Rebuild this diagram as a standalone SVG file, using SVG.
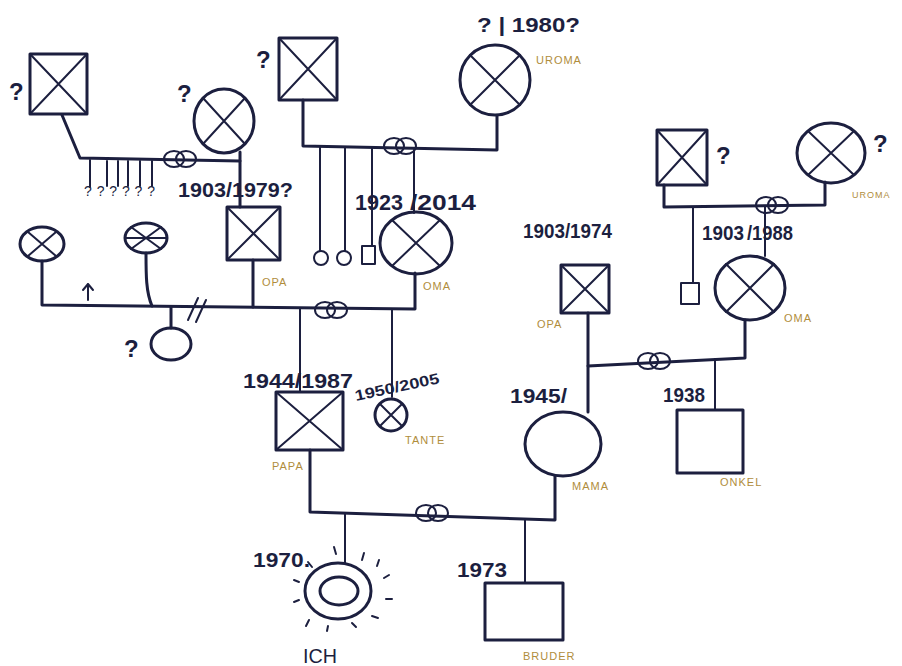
<svg xmlns="http://www.w3.org/2000/svg" width="902" height="666" viewBox="0 0 902 666">
<style>
.s{fill:none;stroke:#1c1f3f;stroke-width:3;stroke-linecap:round;stroke-linejoin:round}
.t{stroke-width:2}
.n{font-family:"Liberation Sans",Arial,sans-serif;font-weight:bold;font-size:20px;fill:#1c1f3f}
.q{font-family:"Liberation Sans",Arial,sans-serif;font-weight:bold;font-size:24px;fill:#1c1f3f}
.l{font-family:"Liberation Sans",Arial,sans-serif;font-size:11px;fill:#b08d3c;letter-spacing:1px}
.lk{font-family:"Liberation Sans",Arial,sans-serif;font-size:14px;fill:#1c1f3f;letter-spacing:1px}
</style>
<defs>
<g id="ring"><ellipse cx="-6" cy="0" rx="10" ry="8" class="s t"/><ellipse cx="6" cy="0" rx="10" ry="8" class="s t"/></g>
</defs>
<rect width="902" height="666" fill="#ffffff"/>

<g id="connectors">
<!-- top-left couple -->
<path class="s" d="M62,115 L80,158 L240,161"/>
<path class="s t" d="M90,160 V187 M107,161 V186 M118,161 V186 M128,161 V186 M140,161 V186 M152,161 V186"/>
<use href="#ring" x="180" y="159"/>
<path class="s" d="M240,152 V207"/>
<!-- top-center couple -->
<path class="s" d="M303,100 V146 L497,150 V116"/>
<use href="#ring" x="400" y="146"/>
<path class="s t" d="M320,147 V251 M345,147 V251 M372,148 V246 M414,150 V213"/>
<!-- main line -->
<path class="s" d="M42,261 V305 L415,309 V273"/>
<path class="s" d="M146,253 C146,275 146,292 152,306"/>
<path class="s" d="M171,307 V328"/>
<path class="s t" d="M88,300 V284 M83,290 L88,284 L93,290"/>
<path class="s t" d="M188,320 L198,298 M196,322 L206,300"/>
<path class="s" d="M253,260 V307"/>
<use href="#ring" x="331" y="310"/>
<path class="s t" d="M300,308 V392 M392,309 V397"/>
<!-- right top couple -->
<path class="s" d="M664,185 V207 L825,205 V182"/>
<use href="#ring" x="772" y="205"/>
<path class="s t" d="M693,207 V282 M765,207 V256"/>
<!-- right middle couple -->
<path class="s" d="M588,313 V412"/>
<path class="s" d="M588,366 L745,358 V320"/>
<use href="#ring" x="654" y="361"/>
<path class="s t" d="M715,359 V410"/>
<!-- bottom couple -->
<path class="s" d="M310,450 V512 L555,520 V476"/>
<use href="#ring" x="432" y="513"/>
<path class="s t" d="M345,513 V563 M525,519 V583"/>
</g>

<g id="ggf1"><rect x="30" y="54" width="57" height="60" class="s"/><path class="s t" d="M30,54 L87,114 M87,54 L30,114"/><text x="9" y="100" class="q">?</text></g>
<g id="siblings"><text x="84" y="196" class="lk" textLength="72">? ? ? ? ? ?</text></g>
<g id="ggm1"><ellipse cx="224" cy="121" rx="30" ry="32" class="s"/><path class="s t" d="M203,98 L245,144 M245,98 L203,144"/><text x="177" y="102" class="q">?</text></g>
<g id="lbl1903"><text x="178" y="197" class="n" textLength="115" lengthAdjust="spacingAndGlyphs">1903/1979?</text></g>
<g id="opa1"><rect x="227" y="207" width="53" height="53" class="s"/><path class="s t" d="M227,207 L280,260 M280,207 L227,260"/><text x="262" y="286" class="l">OPA</text></g>

<g id="ggf2"><rect x="279" y="38" width="58" height="62" class="s"/><path class="s t" d="M279,38 L337,100 M337,38 L279,100"/><text x="256" y="68" class="q">?</text></g>
<g id="uroma1"><circle cx="495" cy="80" r="35" class="s"/><path class="s t" d="M470,55 L520,105 M520,55 L470,105"/><text x="477" y="32" class="n" textLength="103" lengthAdjust="spacingAndGlyphs">? | 1980?</text><text x="536" y="64" class="l">UROMA</text></g>
<g id="child_c1"><circle cx="321" cy="258" r="7" class="s t"/></g>
<g id="child_c2"><circle cx="344" cy="258" r="7" class="s t"/></g>
<g id="child_s1"><rect x="362" y="246" width="13" height="18" class="s t"/></g>
<g id="oma1"><ellipse cx="416" cy="243" rx="36" ry="31" class="s"/><path class="s t" d="M392,220 L440,266 M440,220 L392,266"/><text x="355" y="210" class="n" style="font-size:22px" textLength="48" lengthAdjust="spacingAndGlyphs">1923</text><text x="410" y="210" class="n" style="font-size:22px" textLength="66" lengthAdjust="spacingAndGlyphs">/2014</text><text x="423" y="290" class="l">OMA</text></g>

<g id="ex1"><ellipse cx="42" cy="244" rx="22" ry="17" class="s"/><path class="s t" d="M28,232 L56,256 M56,232 L28,256"/></g>
<g id="ex2"><ellipse cx="146" cy="238" rx="21" ry="15" class="s"/><path class="s t" d="M131,227 L161,249 M161,227 L131,249 M125,238 H167"/></g>
<g id="halfsis"><ellipse cx="171" cy="344" rx="20" ry="16" class="s"/><text x="124" y="357" class="q">?</text></g>

<g id="papa"><rect x="276" y="392" width="67" height="58" class="s"/><path class="s t" d="M276,392 L343,450 M343,392 L276,450"/><text x="243" y="388" class="n" textLength="110" lengthAdjust="spacingAndGlyphs">1944/1987</text><text x="272" y="470" class="l">PAPA</text></g>
<g id="tante"><circle cx="391" cy="415" r="16" class="s"/><path class="s t" d="M380,404 L402,426 M402,404 L380,426"/><text x="356" y="401" class="n" style="font-size:15px" textLength="86" lengthAdjust="spacingAndGlyphs" transform="rotate(-12 356 401)">1950/2005</text><text x="405" y="444" class="l">TANTE</text></g>

<g id="ggf3"><rect x="657" y="130" width="50" height="55" class="s"/><path class="s t" d="M657,130 L707,185 M707,130 L657,185"/><text x="716" y="164" class="q">?</text></g>
<g id="uroma2"><ellipse cx="831" cy="153" rx="34" ry="30" class="s"/><path class="s t" d="M808,131 L854,175 M854,131 L808,175"/><text x="873" y="152" class="q">?</text><text x="852" y="198" class="l" style="font-size:9px">UROMA</text></g>
<g id="child_s2"><rect x="681" y="283" width="18" height="21" class="s t"/></g>
<g id="oma2"><ellipse cx="750" cy="288" rx="35" ry="32" class="s"/><path class="s t" d="M726,264 L774,312 M774,264 L726,312"/><text x="702" y="240" class="n" textLength="42" lengthAdjust="spacingAndGlyphs">1903</text><text x="747" y="240" class="n" textLength="46" lengthAdjust="spacingAndGlyphs">/1988</text><text x="784" y="322" class="l">OMA</text></g>

<g id="opa2"><rect x="561" y="265" width="48" height="48" class="s"/><path class="s t" d="M561,265 L609,313 M609,265 L561,313"/><text x="523" y="238" class="n" textLength="89" lengthAdjust="spacingAndGlyphs">1903/1974</text><text x="537" y="328" class="l">OPA</text></g>
<g id="mama"><ellipse cx="563" cy="444" rx="38" ry="32" class="s"/><text x="510" y="403" class="n" textLength="57" lengthAdjust="spacingAndGlyphs">1945/</text><text x="572" y="490" class="l">MAMA</text></g>
<g id="onkel"><rect x="677" y="410" width="66" height="63" class="s"/><text x="663" y="402" class="n" textLength="42" lengthAdjust="spacingAndGlyphs">1938</text><text x="720" y="486" class="l">ONKEL</text></g>

<g id="ich"><ellipse cx="338" cy="591" rx="33" ry="28" class="s"/><ellipse cx="339" cy="591" rx="19" ry="14" class="s"/>
<path class="s t" d="M334,547 L336,554 M364,553 L362,560 M379,560 L377,566 M389,575 L384,578 M392,599 L386,599 M378,618 L372,616 M356,627 L352,623 M327,631 L328,626 M306,626 L309,620 M294,602 L299,600 M294,580 L299,582 M308,562 L312,567"/>
<text x="253" y="567" class="n" textLength="57" lengthAdjust="spacingAndGlyphs">1970.</text><text x="303" y="663" class="n" style="font-size:20px;font-weight:normal" textLength="34" lengthAdjust="spacingAndGlyphs">ICH</text></g>
<g id="bruder"><rect x="485" y="583" width="78" height="57" class="s"/><text x="457" y="577" class="n" textLength="50" lengthAdjust="spacingAndGlyphs">1973</text><text x="523" y="660" class="l">BRUDER</text></g>
</svg>
